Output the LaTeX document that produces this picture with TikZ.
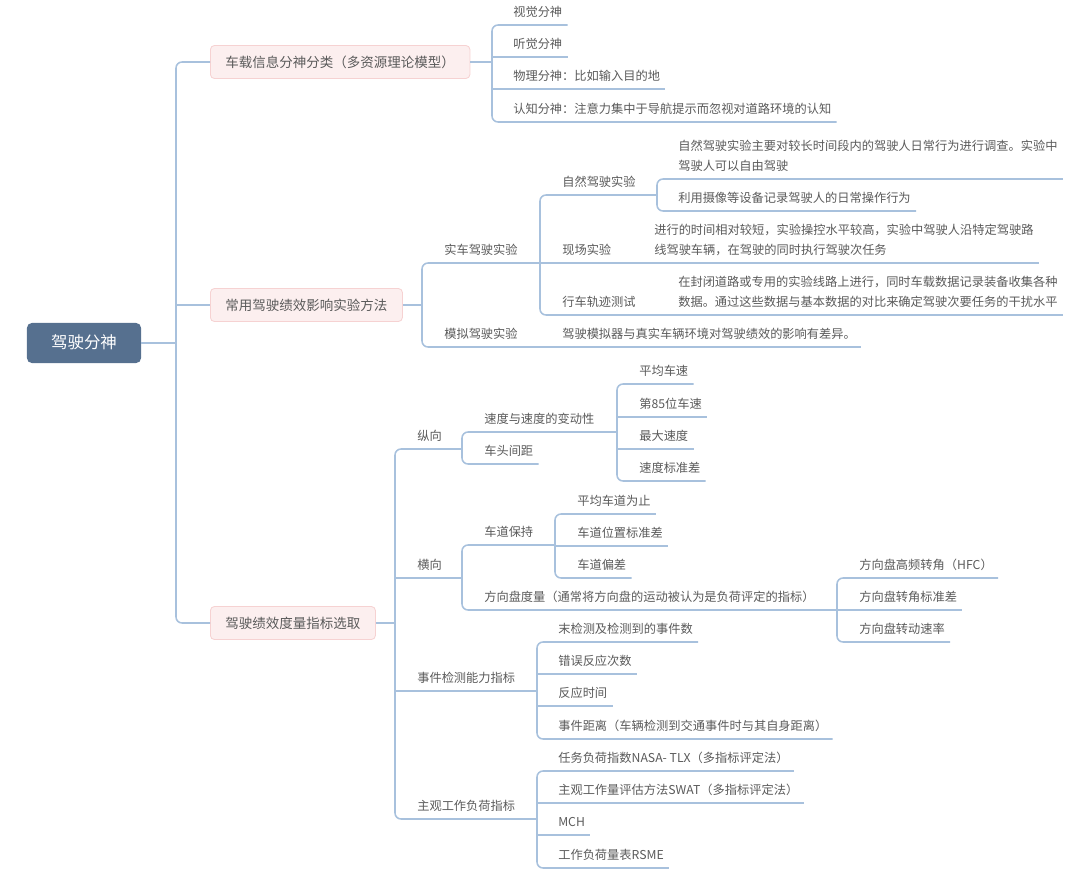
\documentclass[tikz,border=0pt]{standalone}
\usepackage{fontspec}
\setmainfont{Noto Sans CJK SC}

\definecolor{inkgray}{HTML}{5A5A5A}
\definecolor{branchblue}{HTML}{A8C1DD}
\definecolor{rootblue}{HTML}{56708F}
\definecolor{boxpink}{HTML}{FCEFEF}
\definecolor{boxedge}{HTML}{F6D2D2}

\begin{document}
\begin{tikzpicture}[
  x = 0.025cm, y = -0.025cm,
  branch/.style = {draw = branchblue, line width = 1.1pt},
  elbow/.style = {branch, rounded corners = 0.15cm},
  item/.style = {anchor = south west, inner xsep = 0pt, inner ysep = 4pt,
    text depth = 2pt, text = inkgray, font = \fontsize{8.7}{14}\selectfont},
  itemtwo/.style = {anchor = south west, inner xsep = 0pt, inner ysep = 4pt,
    align = left, text = inkgray, font = \fontsize{8.7}{14}\selectfont},
  topic/.style = {anchor = west, fill = boxpink, draw = boxedge, line width = 0.6pt,
    rounded corners = 0.1cm, inner xsep = 0.375cm, minimum height = 0.825cm,
    text height = 0.88em, text depth = 0.12em, text = inkgray,
    font = \fontsize{9.6}{12}\selectfont},
  central/.style = {fill = rootblue, rounded corners = 0.12cm,
    minimum width = 2.85cm, minimum height = 1cm,
    text height = 0.88em, text depth = 0.12em, text = white,
    font = \fontsize{11.7}{14}\selectfont}
  ]
  \useasboundingbox (0, 0) rectangle (1080, 881);

  \node[central] (root) at (84, 343) {驾驶分神};
  \node[topic] (cat) at (210, 62) {车载信息分神分类（多资源理论模型）};
  \node[topic] (meth) at (210, 305) {常用驾驶绩效影响实验方法};
  \node[topic] (meas) at (210, 623) {驾驶绩效度量指标选取};

  \node[item] (vis) at (513, 25) {视觉分神};
  \node[item] (aud) at (513, 57) {听觉分神};
  \node[item] (phy) at (513, 89) {物理分神：比如输入目的地};
  \node[item] (cog) at (513, 122) {认知分神：注意力集中于导航提示而忽视对道路环境的认知};

  \node[item] (real) at (444, 263) {实车驾驶实验};
  \node[item] (sim) at (444, 347) {模拟驾驶实验};
  \node[item] (nat) at (562, 195) {自然驾驶实验};
  \node[item] (field) at (562, 263) {现场实验};
  \node[item] (track) at (562, 315) {行车轨迹测试};
  \node[item] (simd) at (562, 347) {驾驶模拟器与真实车辆环境对驾驶绩效的影响有差异。};
  \node[itemtwo] (natd) at (678, 179) {自然驾驶实验主要对较长时间段内的驾驶人日常行为进行调查。实验中\\驾驶人可以自由驾驶\rule[-2pt]{0pt}{2pt}};
  \node[item] (natc) at (678, 211) {利用摄像等设备记录驾驶人的日常操作行为};
  \node[itemtwo] (fieldd) at (654, 263) {进行的时间相对较短，实验操控水平较高，实验中驾驶人沿特定驾驶路\\线驾驶车辆，在驾驶的同时执行驾驶次任务\rule[-2pt]{0pt}{2pt}};
  \node[itemtwo] (trackd) at (678, 315) {在封闭道路或专用的实验线路上进行，同时车载数据记录装备收集各种\\数据。通过这些数据与基本数据的对比来确定驾驶次要任务的干扰水平\rule[-2pt]{0pt}{2pt}};

  \node[item] (long) at (417, 449) {纵向};
  \node[item] (lat) at (417, 578) {横向};
  \node[item] (event) at (417, 691) {事件检测能力指标};
  \node[item] (subj) at (417, 819) {主观工作负荷指标};
  \node[item] (speed) at (484, 432) {速度与速度的变动性};
  \node[item] (gap) at (484, 464) {车头间距};
  \node[item] (avgv) at (639, 384) {平均车速};
  \node[item] (v85) at (639, 417) {第85位车速};
  \node[item] (vmax) at (639, 449) {最大速度};
  \node[item] (vsd) at (639, 481) {速度标准差};
  \node[item] (keep) at (484, 545) {车道保持};
  \node[item] (steer) at (484, 610) {方向盘度量（通常将方向盘的运动被认为是负荷评定的指标）};
  \node[item] (lanem) at (577, 514) {平均车道为止};
  \node[item] (lanesd) at (577, 546) {车道位置标准差};
  \node[item] (lanedev) at (577, 578) {车道偏差};
  \node[item] (hfc) at (859, 578) {方向盘高频转角（HFC）};
  \node[item] (steersd) at (859, 610) {方向盘转角标准差};
  \node[item] (steerrate) at (859, 642) {方向盘转动速率};
  \node[item] (miss) at (558, 642) {末检测及检测到的事件数};
  \node[item] (err) at (558, 674) {错误反应次数};
  \node[item] (rt) at (558, 706) {反应时间};
  \node[item] (dist) at (558, 739) {事件距离（车辆检测到交通事件时与其自身距离）};
  \node[item] (nasa) at (558, 771) {任务负荷指数NASA- TLX（多指标评定法）};
  \node[item] (swat) at (558, 803) {主观工作量评估方法SWAT（多指标评定法）};
  \node[item] (mch) at (558, 835) {MCH};
  \node[item] (rsme) at (558, 868) {工作负荷量表RSME};

  \coordinate (rootj) at (176, 343);
  \coordinate (catj) at (492, 62);
  \coordinate (methj) at (422, 305);
  \coordinate (measj) at (395, 623);
  \coordinate (realj) at (540, 263);
  \coordinate (natj) at (657, 195);
  \coordinate (longj) at (462, 449);
  \coordinate (speedj) at (617, 432);
  \coordinate (latj) at (462, 578);
  \coordinate (keepj) at (555, 545);
  \coordinate (steerj) at (837, 610);
  \coordinate (eventj) at (537, 691);
  \coordinate (subjj) at (537, 819);

  % trunks
  \draw[branch] (root.east) -- (rootj);
  \foreach \c in {cat, meas}
    \draw[elbow] (rootj) |- (\c.west);
  \draw[branch] (rootj) |- (meth.west);
  \foreach \p/\j in {cat/catj, meth/methj, meas/measj}
    \draw[branch] (\p.east) -- (\j);
  \foreach \p/\j in {real/realj, nat/natj, long/longj, speed/speedj, lat/latj,
      keep/keepj, steer/steerj, event/eventj, subj/subjj}
    \draw[branch] (\p.south east) -- (\j);

  \foreach \j/\c in {catj/vis, catj/cog, methj/real, methj/sim, realj/nat, realj/track,
      natj/natd, natj/natc, measj/long, measj/subj, longj/speed, longj/gap,
      speedj/avgv, speedj/vsd, latj/keep, latj/steer, keepj/lanem, keepj/lanedev,
      steerj/hfc, steerj/steerrate, eventj/miss, eventj/dist, subjj/nasa, subjj/rsme}
    \draw[elbow] (\j) |- (\c.south west) -- ([xshift = 1.25mm]\c.south east);
  \foreach \j/\c in {catj/aud, catj/phy, realj/field, measj/lat, measj/event,
      speedj/v85, speedj/vmax, keepj/lanesd, steerj/steersd, eventj/err, eventj/rt,
      subjj/swat, subjj/mch}
    \draw[branch] (\j) |- (\c.south west) -- ([xshift = 1.25mm]\c.south east);
  \foreach \p/\c in {sim/simd, field/fieldd, track/trackd}
    \draw[branch] (\p.south east) -- (\c.south west) -- ([xshift = 1.25mm]\c.south east);
\end{tikzpicture}
\end{document}
